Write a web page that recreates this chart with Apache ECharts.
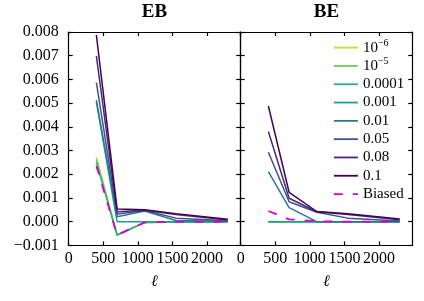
<!DOCTYPE html>
<html><head><meta charset="utf-8">
<script src="https://cdn.jsdelivr.net/npm/echarts@6/dist/echarts.min.js"></script>
<style>html,body{margin:0;padding:0;background:#fff}#c{width:424px;height:301px}</style>
</head><body><div id="c"></div>
<script>
// ell values (bin centres)
const ells = [400, 700, 1100, 1550, 2300];
const seriesNames = ['1e-6', '1e-5', '0.0001', '0.001', '0.01', '0.05', '0.08', '0.1', 'Biased'];
const colors = ['#bddf26', '#6ccd5a', '#2ab07f', '#1f9e95', '#2a788e', '#3b528b', '#482878', '#440154', '#d400d4'];
const xTicks = [0, 500, 1000, 1500, 2000];
const yTicks = [-0.001, 0, 0.001, 0.002, 0.003, 0.004, 0.005, 0.006, 0.007, 0.008];

// EB panel
const eb_1e6   = [0.00272, -0.00055, -0.00003, -0.00001, 0.0];
const eb_1e5   = [0.00262, -0.00055, -0.00003, -0.00001, 0.0];
const eb_1e4   = [0.00250, -0.00057, -0.00003, -0.00001, 0.0];
const eb_1e3   = [0.00505, 0.0, 0.0, 0.0, 0.0];
const eb_1e2   = [0.00513, 0.00021, 0.00045, 0.00005, 0.00002];
const eb_005   = [0.00587, 0.00032, 0.00047, 0.00015, 0.00004];
const eb_008   = [0.00699, 0.00042, 0.00048, 0.00030, 0.00007];
const eb_01    = [0.00788, 0.00054, 0.00050, 0.00034, 0.00010];
const eb_bias  = [0.00235, -0.00056, -0.00003, -0.00001, 0.0];

// BE panel
const be_1e6   = [0.0, 0.0, 0.0, 0.0, 0.0];
const be_1e5   = [0.0, 0.0, 0.0, 0.0, 0.0];
const be_1e4   = [0.0, 0.0, 0.0, 0.0, 0.0];
const be_1e3   = [0.0, 0.0, 0.0, 0.0, 0.0];
const be_1e2   = [0.00211, 0.00059, 0.0, 0.0, 0.0];
const be_005   = [0.00293, 0.00084, 0.00040, 0.00015, 0.00003];
const be_008   = [0.00380, 0.00099, 0.00042, 0.00030, 0.00008];
const be_01    = [0.00488, 0.00124, 0.00043, 0.00033, 0.00011];
const be_bias  = [0.00045, 0.00010, 0.00002, 0.0, 0.0];

const ebData = [eb_1e6, eb_1e5, eb_1e4, eb_1e3, eb_1e2, eb_005, eb_008, eb_01, eb_bias];
const beData = [be_1e6, be_1e5, be_1e4, be_1e3, be_1e2, be_005, be_008, be_01, be_bias];

const SERIF = 'Liberation Serif';
const black = {color: '#000', width: 1.2};

function xAx(grid, pos) {
  const bottom = pos === 'bottom';
  return {
    gridIndex: grid, type: 'value', position: pos, min: 0, max: 2480, interval: 500,
    axisLine: {onZero: false, lineStyle: black},
    axisTick: {inside: true, length: 4, lineStyle: black},
    axisLabel: {show: bottom, margin: 5, color: '#000', fontFamily: SERIF, fontSize: 16,
      showMaxLabel: false,
      formatter: v => xTicks.includes(v) ? String(v) : ''},
    splitLine: {show: false},
    name: bottom ? 'ℓ' : '', nameLocation: 'middle', nameGap: 28,
    nameTextStyle: {fontFamily: SERIF, fontStyle: 'italic', fontSize: 16, color: '#000'}
  };
}
function yAx(grid, pos, labels) {
  return {
    gridIndex: grid, type: 'value', position: pos, min: -0.001, max: 0.008, interval: 0.001,
    axisLine: {onZero: false, lineStyle: black},
    axisTick: {inside: true, length: 4, lineStyle: black},
    axisLabel: {show: labels, margin: 10, color: '#000', fontFamily: SERIF, fontSize: 16,
      formatter: v => {
        const t = yTicks.find(k => Math.abs(k - v) < 1e-9);
        if (t === undefined) return '';
        const s = Math.abs(t).toFixed(3);
        return t < 0 ? '\u2212' + s : s;
      }},
    splitLine: {show: false}
  };
}

const series = [];
[ebData, beData].forEach((panel, p) => {
  panel.forEach((arr, i) => {
    const biased = i === 8;
    series.push({
      name: seriesNames[i], type: 'line', xAxisIndex: p, yAxisIndex: p,
      data: ells.map((x, k) => [x, arr[k]]),
      symbol: 'none', animation: false, z: biased ? 5 : 2,
      lineStyle: {color: colors[i], width: biased ? 1.8 : 1.5, type: biased ? [9, 10] : 'solid'},
      itemStyle: {color: colors[i]}
    });
  });
});

const supMap = {'1e-6': '\u22126', '1e-5': '\u22125'};
const chart = echarts.init(document.getElementById('c'), null, {renderer: 'canvas'});
chart.setOption({
  animation: false,
  grid: [
    {left: 68.7, top: 32, width: 171.5, height: 213.4},
    {left: 240.7, top: 32, width: 171.5, height: 213.4}
  ],
  xAxis: [xAx(0, 'bottom'), xAx(1, 'bottom'), xAx(0, 'top'), xAx(1, 'top')],
  yAxis: [yAx(0, 'left', true), yAx(1, 'left', false), yAx(0, 'right', false), yAx(1, 'right', false)],
  legend: {
    orient: 'vertical', left: 333, top: 38.5, itemWidth: 24, itemHeight: 14, itemGap: 0,
    data: seriesNames, padding: 0,
    itemStyle: {opacity: 0},
    lineStyle: {width: 1.8},
    textStyle: {fontFamily: SERIF, fontSize: 15, color: '#000', lineHeight: 18.3,
      rich: {b: {fontFamily: SERIF, fontSize: 15, color: '#000', lineHeight: 18.3},
             s: {fontFamily: SERIF, fontSize: 10, color: '#000', verticalAlign: 'top', lineHeight: 12}}},
    itemTextGap: 4,
    formatter: n => supMap[n] ? '{b|10}{s|' + supMap[n] + '}' : n
  },
  graphic: [
    {type: 'text', x: 154.5, y: 3, style: {text: 'EB', textAlign: 'center', font: 'bold 19px "Liberation Serif"', fill: '#000'}},
    {type: 'text', x: 326.5, y: 3, style: {text: 'BE', textAlign: 'center', font: 'bold 19px "Liberation Serif"', fill: '#000'}}
  ],
  series: series
});
</script></body></html>
